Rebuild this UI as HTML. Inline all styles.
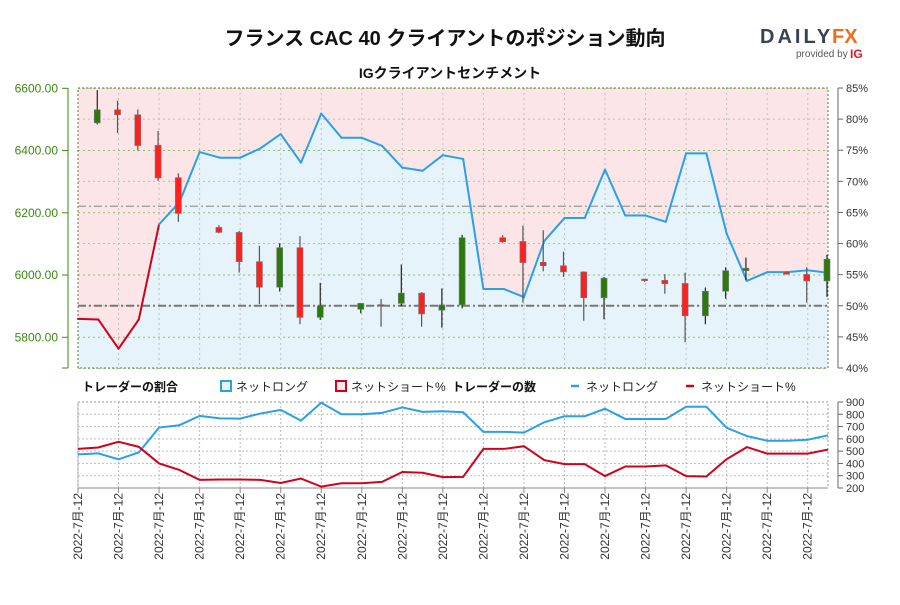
<!DOCTYPE html>
<html><head><meta charset="utf-8">
<style>
body{margin:0;background:#fff;width:900px;height:600px;overflow:hidden;font-family:"Liberation Sans","Noto Sans CJK JP",sans-serif;}
svg text{font-family:"Liberation Sans","Noto Sans CJK JP",sans-serif;}
</style></head>
<body>
<svg id="c" width="900" height="600" xmlns="http://www.w3.org/2000/svg">
<text x="445" y="45" text-anchor="middle" font-size="20" font-weight="bold" fill="#111">フランス CAC 40 クライアントのポジション動向</text>
<text x="450" y="78" text-anchor="middle" font-size="14" font-weight="bold" fill="#111">IGクライアントセンチメント</text>
<g>
<text x="760" y="43" font-size="20" font-weight="bold" fill="#3b4350" letter-spacing="3">DAILY</text>
<text x="832" y="43" font-size="20" font-weight="bold" fill="#f26b1d">FX</text>
<text x="796" y="57" font-size="10" fill="#555">provided by</text>
<text x="850" y="58" font-size="12" font-weight="bold" fill="#e3141b">IG</text>
</g>
<g id="main"></g>
<g id="legend">
<text x="82" y="391" font-size="12" font-weight="bold" fill="#111">トレーダーの割合</text>
<rect x="221" y="381" width="10" height="10" fill="#e6f3fb" stroke="#2aa0e8" stroke-width="2"/>
<text x="236" y="391" font-size="12" fill="#222">ネットロング</text>
<rect x="336" y="381" width="10" height="10" fill="#fbe6e8" stroke="#d0021b" stroke-width="2"/>
<text x="351" y="391" font-size="12" fill="#222">ネットショート%</text>
<text x="452" y="391" font-size="12" font-weight="bold" fill="#111">トレーダーの数</text>
<line x1="571" y1="386" x2="579" y2="386" stroke="#2aa0e8" stroke-width="2.5"/>
<text x="586" y="391" font-size="12" fill="#222">ネットロング</text>
<line x1="686" y1="386" x2="694" y2="386" stroke="#d0021b" stroke-width="2.5"/>
<text x="701" y="391" font-size="12" fill="#222">ネットショート%</text>
</g>
<g id="lower"></g>
</svg>
<script>
const dates = Array(38).fill('2022-7月-12');
const netLongPct = [47.9,47.8,43.1,47.8,63.1,66.6,74.7,73.8,73.8,75.3,77.6,73.0,80.9,77.0,77.0,75.7,72.2,71.7,74.2,73.6,52.7,52.7,51.4,60.4,64.1,64.1,71.9,64.5,64.5,63.5,74.5,74.5,61.6,54.0,55.4,55.4,55.7,55.3];
const longCount = [474,482,433,490,692,711,787,767,765,806,836,748,894,800,800,811,856,820,825,817,657,657,651,735,784,784,845,762,762,762,861,861,690,623,585,585,593,629];
const shortCount = [518,530,576,535,400,347,266,269,269,266,241,277,211,239,239,250,330,324,289,291,518,518,540,427,394,394,297,375,375,384,297,294,435,533,480,480,480,513];
const candleIdx = [1,2,3,4,5,7,8,9,10,11,12,14,15,16,17,18,19,21,22,23,24,25,26,28,29,30,31,32,33,35,36,37];
const candleOpen = [6489,6531,6515,6417,6313,6153,6137,6043,5961,6088,5864,5890,5905,5909,5942,5887,5904,6120,6108,6041,6030,6010,5927,5987,5983,5973,5869,5948,6014,6010,6002,5981];
const candleHigh = [6594,6560,6532,6463,6327,6160,6142,6094,6102,6125,5975,5909,5923,6034,5945,5957,6129,6128,6159,6144,6075,6012,5994,5987,6003,6008,5960,6025,6056,6012,6025,6065];
const candleLow = [6484,6456,6400,6303,6171,6134,6008,5907,5947,5842,5856,5877,5834,5900,5834,5831,5893,6104,5911,6012,5994,5853,5858,5978,5940,5784,5842,5924,5983,6001,5911,5930];
const candleClose = [6531,6515,6416,6312,6198,6137,6043,5961,6088,5864,5901,5909,5903,5942,5875,5904,6120,6107,6040,6030,6010,5927,5990,5982,5972,5869,5948,6014,6022,6003,5981,6051];
const priceTicks = [5800,6000,6200,6400,6600];
const pctTicks = [40,45,50,55,60,65,70,75,80,85];
const countTicks = [200,300,400,500,600,700,800,900];

const NS='http://www.w3.org/2000/svg';
function mk(parent,tag,attrs){const e=document.createElementNS(NS,tag);for(const k in attrs)e.setAttribute(k,attrs[k]);parent.appendChild(e);return e;}
const X0=78,X1=828,step=(X1-X0)/37;
const xs=i=>X0+i*step;
const yP=p=>88.3+(6600-p)*0.31125;
const yPct=v=>88+(85-v)*(280/45);
const yC=v=>488-(v-200)*(86/700);
const main=document.getElementById('main');
const low=document.getElementById('lower');

let bg=mk(main,'rect',{x:X0,y:88,width:X1-X0,height:280,fill:'#fbe5e6'});


let pts=netLongPct.map((v,i)=>xs(i)+','+yPct(v)).join(' ');
let area=mk(main,'polygon',{points:X0+',368 '+pts+' '+X1+',368',fill:'#e6f3fb'});


pctTicks.forEach(v=>{if(v%10===0&&v!==40){mk(main,'line',{x1:X0,x2:X1,y1:yPct(v),y2:yPct(v),stroke:'#c8b8b8','stroke-dasharray':'2,3','stroke-width':1});}});
priceTicks.concat([5700]).forEach(p=>{mk(main,'line',{x1:X0,x2:X1,y1:yP(p),y2:yP(p),stroke:'#8fbf6a','stroke-dasharray':'2,3','stroke-width':1});});
for(let i=2;i<37;i+=2){mk(main,'line',{x1:xs(i),x2:xs(i),y1:88,y2:368,stroke:'#c0c0c0','stroke-dasharray':'2,3'});}
mk(main,'rect',{x:X0,y:88,width:X1-X0,height:280,fill:'none',stroke:'#5a7a3a','stroke-dasharray':'2,2','stroke-width':1});
let l66=mk(main,'line',{x1:X0,x2:X1,y1:yPct(66),y2:yPct(66),stroke:'#999','stroke-dasharray':'8,3,2,3','stroke-width':1.2});


let l50=mk(main,'line',{x1:X0,x2:X1,y1:yPct(50),y2:yPct(50),stroke:'#777','stroke-dasharray':'8,3,2,3','stroke-width':2});


for(let i=0;i<37;i++){
  const s=mk(main,'line',{x1:xs(i),y1:yPct(netLongPct[i]),x2:xs(i+1),y2:yPct(netLongPct[i+1]),stroke:netLongPct[i]<50?'#d0021b':'#2aa0e8','stroke-width':2,'stroke-linecap':'round'});
  
  
}
candleIdx.forEach((ix,k)=>{
  const o=candleOpen[k],c=candleClose[k],h=candleHigh[k],l=candleLow[k];
  const up=c>=o,x=xs(ix)-1;
  const g=mk(main,'g',{});
  
  
  mk(g,'line',{x1:x,x2:x,y1:yP(h),y2:yP(l),stroke:up?'#222':'#555','stroke-width':1.2});
  const t=yP(Math.max(o,c)),b=yP(Math.min(o,c));
  mk(g,'rect',{x:x-3,y:t,width:6,height:Math.max(b-t,1.5),fill:up?'#2b7a0b':'#ff2020',stroke:'#777','stroke-width':0.6});
});
const la=mk(main,'g',{});


mk(la,'line',{x1:68,x2:68,y1:88,y2:368,stroke:'#3a8a10','stroke-width':1});
mk(la,'line',{x1:62,x2:68,y1:368,y2:368,stroke:'#3a8a10'});
priceTicks.forEach(p=>{mk(la,'line',{x1:62,x2:68,y1:yP(p),y2:yP(p),stroke:'#3a8a10'});
 const t=mk(la,'text',{x:58,y:yP(p)+4,'text-anchor':'end','font-size':12,fill:'#3a8a10'});t.textContent=p.toFixed(2);});
const ra=mk(main,'g',{});


mk(ra,'line',{x1:838,x2:838,y1:88,y2:368,stroke:'#666'});
pctTicks.forEach(v=>{mk(ra,'line',{x1:838,x2:843,y1:yPct(v),y2:yPct(v),stroke:'#666'});
 const t=mk(ra,'text',{x:846,y:yPct(v)+4,'font-size':11,fill:'#333'});t.textContent=v+'%';});

countTicks.forEach(v=>{mk(low,'line',{x1:X0,x2:X1,y1:yC(v),y2:yC(v),stroke:'#bbb','stroke-dasharray':'2,2'});});
for(let i=0;i<38;i+=2){mk(low,'line',{x1:xs(i),x2:xs(i),y1:402,y2:488,stroke:'#bbb','stroke-dasharray':'2,2'});}
mk(low,'rect',{x:X0,y:402,width:X1-X0,height:86,fill:'none',stroke:'#999','stroke-dasharray':'2,2'});
const lp=mk(low,'polyline',{points:longCount.map((v,i)=>xs(i)+','+yC(v)).join(' '),fill:'none',stroke:'#2aa0e8','stroke-width':2});


const sp=mk(low,'polyline',{points:shortCount.map((v,i)=>xs(i)+','+yC(v)).join(' '),fill:'none',stroke:'#d0021b','stroke-width':2});


const ca=mk(low,'g',{});


mk(ca,'line',{x1:838,x2:838,y1:402,y2:488,stroke:'#666'});
countTicks.forEach(v=>{mk(ca,'line',{x1:838,x2:843,y1:yC(v),y2:yC(v),stroke:'#666'});
 const t=mk(ca,'text',{x:846,y:yC(v)+4,'font-size':11,fill:'#333'});t.textContent=v;});
const xa=mk(low,'g',{});


mk(xa,'line',{x1:X0,x2:X1,y1:488,y2:488,stroke:'#888'});
for(let i=0;i<38;i+=2){
  mk(xa,'line',{x1:xs(i),x2:xs(i),y1:488,y2:493,stroke:'#888'});
  const t=mk(xa,'text',{x:0,y:0,'font-size':12,fill:'#333','text-anchor':'end',transform:'translate('+(xs(i)+4)+',493) rotate(-90)'});
  t.textContent=dates[i];
}
</script>
</body></html>
